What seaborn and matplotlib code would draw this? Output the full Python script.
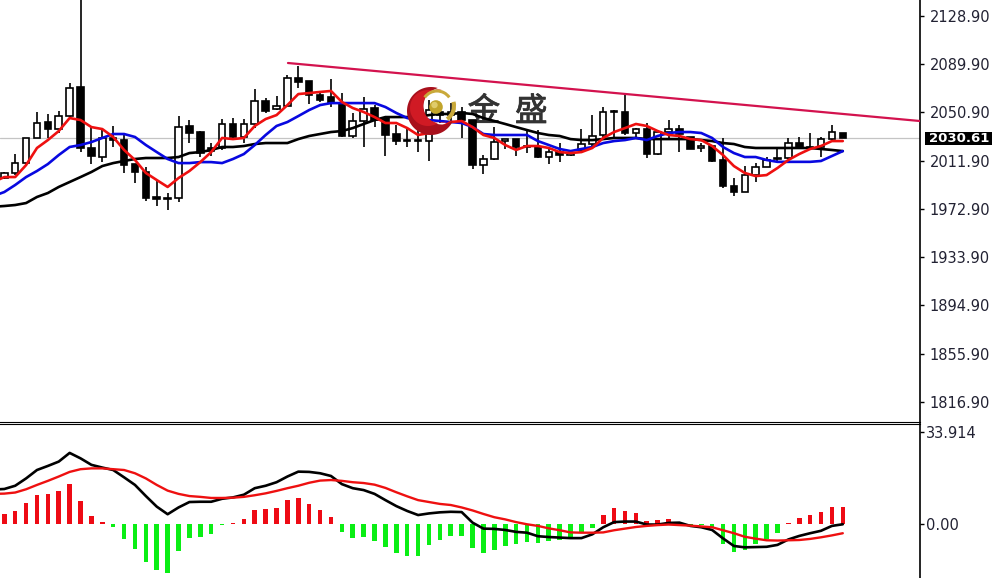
# %%
# import libraries
import matplotlib

matplotlib.use("Agg")
import matplotlib.patheffects as pe
import matplotlib.pyplot as plt
import numpy as np
import pandas as pd
import seaborn as sns
from matplotlib.patches import Arc, Circle, Polygon, Rectangle

# %%
# candles, one entry per bar
opens = [1997.9, 2002.0, 2010.0, 2030.3, 2043.2, 2037.5, 2048.0, 2071.5, 2022.2, 2014.9,
         2030.3, 2028.6, 2009.2, 2002.8, 1982.6, 1981.8, 1981.8, 2040.0, 2035.1, 2022.2,
         2022.2, 2041.6, 2031.1, 2041.6, 2060.2, 2053.7, 2056.1, 2078.8, 2076.3, 2065.0,
         2063.4, 2058.5, 2031.9, 2044.0, 2054.5, 2046.4, 2033.5, 2028.6, 2028.6, 2027.8,
         2051.3, 2048.8, 2051.3, 2044.8, 2008.4, 2013.3, 2027.8, 2029.4, 2023.8, 2023.0,
         2014.9, 2018.9, 2016.5, 2020.6, 2025.4, 2032.7, 2052.1, 2051.3, 2034.3, 2037.5,
         2017.3, 2035.1, 2037.5, 2031.1, 2022.2, 2023.8, 2012.5, 1991.5, 1986.6, 2000.3,
         2006.8, 2014.1, 2014.1, 2026.2, 2023.0, 2023.0, 2029.4, 2034.3]
closes = [2002.0, 2010.0, 2030.3, 2042.4, 2037.5, 2048.0, 2070.7, 2022.2, 2015.7, 2030.3,
          2028.6, 2008.4, 2002.8, 1981.8, 1981.0, 1981.0, 2039.1, 2034.3, 2018.1, 2019.7,
          2041.6, 2031.1, 2041.6, 2060.2, 2052.1, 2056.1, 2078.8, 2075.5, 2065.0, 2061.0,
          2058.5, 2031.9, 2044.0, 2053.7, 2044.8, 2032.7, 2027.8, 2027.8, 2027.8, 2052.9,
          2048.8, 2051.3, 2044.8, 2008.4, 2013.3, 2027.0, 2029.4, 2023.0, 2023.0, 2014.9,
          2018.9, 2016.5, 2018.1, 2025.4, 2031.9, 2051.3, 2051.3, 2034.3, 2037.5, 2017.3,
          2035.1, 2037.5, 2033.5, 2021.4, 2023.8, 2011.7, 1991.5, 1986.6, 2000.3, 2006.8,
          2012.5, 2013.3, 2026.2, 2022.2, 2022.2, 2029.4, 2035.1, 2030.6]
highs = [2002.8, 2017.3, 2030.3, 2051.3, 2049.7, 2052.1, 2074.7, 2146.0, 2039.1, 2037.5,
         2040.0, 2032.7, 2009.2, 2006.8, 1995.5, 1985.8, 2048.0, 2044.8, 2035.9, 2026.2,
         2045.6, 2046.4, 2045.6, 2069.9, 2062.6, 2064.2, 2081.2, 2088.5, 2076.3, 2067.5,
         2078.0, 2066.6, 2050.5, 2063.4, 2056.9, 2046.4, 2040.8, 2039.1, 2040.8, 2061.0,
         2055.3, 2058.5, 2055.3, 2044.8, 2016.5, 2039.1, 2029.4, 2029.4, 2036.7, 2036.7,
         2022.2, 2026.2, 2018.9, 2037.5, 2048.8, 2055.3, 2052.9, 2065.0, 2038.3, 2042.4,
         2036.7, 2044.8, 2040.8, 2031.1, 2026.2, 2023.8, 2030.3, 1997.9, 2007.6, 2010.0,
         2014.9, 2022.2, 2030.3, 2031.1, 2034.3, 2031.1, 2040.8, 2034.3]
lows = [1997.1, 2000.3, 2008.4, 2030.3, 2030.3, 2034.3, 2047.2, 2018.9, 2009.2, 2011.0,
        2023.0, 2002.0, 1993.9, 1979.3, 1975.3, 1972.1, 1978.5, 2026.2, 2014.9, 2015.7,
        2020.6, 2030.3, 2026.2, 2038.3, 2050.5, 2052.9, 2056.1, 2070.7, 2057.7, 2059.4,
        2055.3, 2031.1, 2030.3, 2023.0, 2039.1, 2015.7, 2024.6, 2023.0, 2018.9, 2011.7,
        2042.4, 2042.4, 2030.3, 2005.2, 2001.2, 2012.5, 2021.4, 2015.7, 2018.1, 2014.1,
        2009.2, 2011.0, 2015.7, 2018.9, 2023.0, 2030.3, 2030.3, 2032.7, 2030.3, 2014.1,
        2016.5, 2030.3, 2018.9, 2021.4, 2018.9, 2011.0, 1989.8, 1983.4, 1986.6, 1994.7,
        2006.8, 2011.0, 2013.3, 2022.2, 2021.4, 2014.9, 2028.6, 2030.6]

# moving averages, these start one bar left of the first whole candle
ma_red = [1994.7, 1998.7, 1998.7, 2008.4, 2022.2, 2028.6, 2035.9, 2046.4, 2044.8, 2039.1, 2037.5,
          2031.1, 2020.6, 2012.5, 2002.0, 1996.3, 1990.7, 1997.9, 2003.6, 2010.8, 2018.9,
          2030.3, 2029.4, 2030.3, 2040.0, 2045.6, 2048.8, 2056.9, 2065.8, 2066.6, 2067.5,
          2068.3, 2059.4, 2054.5, 2051.3, 2047.2, 2042.4, 2042.4, 2038.3, 2032.7, 2034.3,
          2038.3, 2043.2, 2044.0, 2039.1, 2032.7, 2030.3, 2024.6, 2020.6, 2023.8, 2023.8,
          2022.2, 2018.9, 2018.1, 2018.9, 2022.2, 2030.3, 2035.1, 2038.3, 2041.6, 2040.0,
          2035.9, 2032.7, 2031.9, 2029.4, 2028.6, 2023.8, 2016.5, 2007.6, 2002.0, 1999.5,
          2000.3, 2006.0, 2012.5, 2017.3, 2021.4, 2023.8, 2027.8, 2027.8]
ma_blue = [1983.4, 1986.6, 1992.3, 1998.7, 2003.6, 2009.2, 2016.5, 2023.0, 2024.6, 2027.0, 2030.3,
           2033.5, 2033.5, 2031.1, 2024.6, 2018.9, 2013.3, 2010.0, 2010.0, 2010.8, 2010.8,
           2010.0, 2013.3, 2017.3, 2024.6, 2032.7, 2040.0, 2043.2, 2048.0, 2052.9, 2056.9,
           2058.5, 2058.5, 2058.5, 2058.5, 2058.5, 2055.3, 2050.5, 2046.4, 2044.8, 2044.8,
           2044.0, 2043.2, 2042.4, 2039.1, 2033.5, 2032.7, 2032.7, 2032.7, 2032.7, 2027.8,
           2024.6, 2021.4, 2019.7, 2021.4, 2023.0, 2026.2, 2027.8, 2028.6, 2030.3, 2028.6,
           2031.9, 2034.3, 2035.1, 2035.1, 2034.3, 2030.3, 2023.0, 2018.1, 2014.9, 2014.9,
           2012.5, 2011.0, 2011.0, 2011.0, 2011.0, 2011.7, 2015.7, 2019.7]
ma_black = [1974.7, 1975.3, 1976.1, 1977.7, 1982.6, 1985.8, 1990.7, 1994.7, 1998.7, 2002.8, 2007.6,
            2010.0, 2011.7, 2013.3, 2014.1, 2014.1, 2014.1, 2014.9, 2018.1, 2018.9, 2020.6,
            2023.0, 2023.0, 2023.8, 2025.4, 2026.2, 2026.2, 2026.2, 2029.4, 2031.9, 2033.5,
            2035.1, 2035.9, 2038.3, 2041.6, 2044.8, 2047.2, 2047.2, 2047.2, 2047.2, 2048.8,
            2049.7, 2049.7, 2050.5, 2049.7, 2046.4, 2044.0, 2041.6, 2039.1, 2036.7, 2034.3,
            2032.7, 2031.9, 2029.4, 2028.6, 2028.6, 2029.4, 2030.3, 2030.3, 2030.3, 2029.4,
            2029.4, 2029.4, 2029.4, 2029.4, 2028.6, 2027.8, 2026.2, 2025.4, 2023.0, 2022.2,
            2022.2, 2022.2, 2022.2, 2022.2, 2022.2, 2021.4, 2020.6, 2019.7]

# hand drawn resistance line
trend_x = [26.05, 84.09]
trend_y = [2090.9, 2044.0]
last_price = 2030.61

# MACD panel
macd_hist = [3.7, 4.9, 7.9, 10.7, 11.1, 12.2, 14.6, 8.5, 2.9, 0.7, -1.2, -5.7, -9.3, -14.0,
             -17.0, -17.9, -10.0, -5.3, -4.7, -3.8, -0.4, 0.3, 1.8, 5.2, 5.5, 5.9, 8.8, 9.6,
             7.4, 5.2, 2.5, -3.1, -5.3, -4.9, -6.3, -8.5, -10.7, -11.7, -11.8, -7.7, -5.9,
             -4.3, -4.5, -8.8, -10.7, -9.6, -8.1, -7.4, -6.6, -7.1, -6.4, -5.9, -5.3, -3.2,
             -1.4, 3.3, 5.8, 4.8, 3.9, 1.1, 1.5, 1.8, 0.9, -0.4, -0.4, -1.2, -7.4, -10.2,
             -9.6, -7.4, -5.7, -3.2, 0.5, 2.2, 3.3, 4.4, 6.3, 6.3]
macd_line = [12.7, 12.9, 14.1, 16.8, 19.9, 21.4, 23.0, 26.2, 24.2, 21.8, 20.8, 19.9, 17.2, 14.4,
             10.3, 6.4, 3.6, 6.1, 8.1, 8.2, 8.2, 9.3, 9.8, 10.8, 13.2, 14.1, 15.4, 17.5,
             19.3, 19.2, 18.7, 17.7, 14.7, 13.2, 12.5, 11.1, 8.8, 6.6, 4.8, 3.3, 3.9, 4.3,
             4.5, 4.4, 0.5, -1.7, -1.8, -2.2, -2.9, -3.2, -4.5, -4.8, -5.0, -5.2, -5.2,
             -3.8, -1.2, 0.7, 0.9, 0.9, -0.2, -0.2, 0.4, 0.5, -0.7, -1.2, -2.2, -5.3, -8.1,
             -8.6, -8.5, -8.4, -7.7, -5.7, -4.4, -3.4, -2.5, -0.7, -0.1]
macd_signal = [11.1, 11.2, 11.6, 12.8, 14.4, 15.9, 17.5, 19.2, 20.2, 20.5, 20.5, 20.2, 19.9, 18.7,
               16.8, 14.4, 12.3, 11.1, 10.3, 10.0, 9.6, 9.6, 9.7, 10.0, 10.6, 11.3, 12.2,
               13.2, 14.1, 15.2, 16.0, 16.2, 15.9, 15.4, 15.1, 14.5, 13.3, 11.7, 10.2, 8.8,
               8.1, 7.4, 7.0, 6.1, 5.0, 3.7, 2.5, 1.7, 0.7, -0.1, -0.7, -1.6, -2.3, -3.1,
               -3.2, -3.2, -3.1, -2.3, -1.7, -1.1, -0.7, -0.4, -0.2, -0.4, -0.6, -0.9, -1.2,
               -2.3, -3.4, -4.7, -5.4, -6.0, -6.1, -6.0, -5.9, -5.5, -4.9, -4.2, -3.4]

price_ticks = [2128.90, 2089.90, 2050.90, 2011.90, 1972.90, 1933.90, 1894.90, 1855.90, 1816.90]
macd_ticks = [33.914, 0.0]
macd_tick_labels = ["33.914", "0.00"]

# %%
# set up figure and the two panels
sns.set_style("white")
plt.rcParams["font.family"] = ["DejaVu Sans"]

W, H = 992, 578
fig = plt.figure(figsize=(W / 100, H / 100), dpi=100)
ax = fig.add_axes([0, (H - 421.5) / H, 920 / W, 421.5 / H])
ax_macd = fig.add_axes([0, 0, 920 / W, (H - 423.5) / H])

df = pd.DataFrame({"bar": np.arange(len(opens)), "open": opens, "close": closes,
                   "high": highs, "low": lows})
df["top"] = df[["open", "close"]].max(axis=1)
df["bottom"] = df[["open", "close"]].min(axis=1)
df["up"] = df["close"] >= df["open"]
df_ma = pd.DataFrame({"bar": np.arange(-1, len(opens)), "red": ma_red, "blue": ma_blue, "black": ma_black,
                      "line": macd_line, "signal": macd_signal})

# %%
# candles and averages
ax.text(42.55, 2051.3, "金  盛", family="Noto Sans CJK SC", fontsize=23.5, color="#333333",
        va="center", ha="left", zorder=1,
        path_effects=[pe.withStroke(linewidth=0.6, foreground="#333333")])
ax.axhline(last_price, color="#c4c4c4", lw=0.9, zorder=1)
ax.vlines(df["bar"], df["low"], df["high"], color="black", lw=1.2, zorder=2)
ax.bar(df["bar"], df["top"] - df["bottom"], bottom=df["bottom"], width=0.6,
       color=["white" if u else "black" for u in df["up"]], edgecolor="black", lw=1.2, zorder=3)

sns.lineplot(data=df_ma, x="bar", y="black", color="black", lw=1.9, errorbar=None, ax=ax, zorder=4)
sns.lineplot(data=df_ma, x="bar", y="blue", color="#0808e0", lw=1.9, errorbar=None, ax=ax, zorder=5)
sns.lineplot(data=df_ma, x="bar", y="red", color="#ee1010", lw=1.9, errorbar=None, ax=ax, zorder=6)
sns.lineplot(x=trend_x, y=trend_y, color="#d3124e", lw=1.6, errorbar=None, ax=ax, zorder=6)

ax.set_xlim(-0.395, 84.09)
ax.set_ylim(1801.1, 2141.83)
ax.set_yticks(price_ticks)
ax.set_yticklabels([f"{t:.2f}" for t in price_ticks])

# %%
# MACD panel
df_macd = pd.DataFrame({"bar": df["bar"], "hist": macd_hist})
df_macd["sign"] = np.where(df_macd["hist"] >= 0, "pos", "neg")
sns.barplot(data=df_macd, x="bar", y="hist", hue="sign", palette={"pos": "#ee0a14", "neg": "#0aee14"},
            native_scale=True, dodge=False, width=0.42, saturation=1, linewidth=0, legend=False,
            ax=ax_macd, zorder=2)
sns.lineplot(data=df_ma, x="bar", y="line", color="black", lw=1.9, errorbar=None, ax=ax_macd, zorder=4)
sns.lineplot(data=df_ma, x="bar", y="signal", color="#ee1010", lw=1.7, errorbar=None, ax=ax_macd, zorder=5)

ax_macd.set_xlim(-0.395, 84.09)
ax_macd.set_ylim(-19.9, 37.04)
ax_macd.set_yticks(macd_ticks)
ax_macd.set_yticklabels(macd_tick_labels)

for a in (ax, ax_macd):
    a.set_xlabel("")
    a.set_ylabel("")
    a.set_xticks([])
    a.yaxis.tick_right()
    a.tick_params(axis="y", length=3, width=1, pad=4, labelsize=10.5, labelcolor="#222233", color="black")
    for side in ("left", "top", "bottom"):
        a.spines[side].set_visible(False)
    a.spines["right"].set_visible(True)
    a.spines["right"].set_color("black")
    a.spines["right"].set_linewidth(1.2)
ax.spines["bottom"].set_visible(True)
ax.spines["bottom"].set_color("black")
ax_macd.spines["top"].set_visible(True)
ax_macd.spines["top"].set_color("black")
ax_macd.tick_params(axis="y", pad=1)

# %%
# logo and last price box sit on top of the chart, drawn in picture pixels
logo = fig.add_axes([0, 0, 1, 1])
logo.set_xlim(0, W)
logo.set_ylim(H, 0)
logo.axis("off")
logo.patch.set_alpha(0)


def crescent(cx, cy, R, ix, iy, r):
    d = np.hypot(ix - cx, iy - cy)
    phi = np.arctan2(iy - cy, ix - cx)
    alpha = np.arccos((d**2 + R**2 - r**2) / (2 * d * R))
    beta = np.arccos((d**2 + r**2 - R**2) / (2 * d * r))
    t1 = np.linspace(phi + alpha, phi + 2 * np.pi - alpha, 80)
    t2 = np.linspace(phi - beta, phi + beta - 2 * np.pi, 80)
    return np.vstack([
        np.c_[cx + R * np.cos(t1), cy + R * np.sin(t1)],
        np.c_[ix + r * np.cos(t2), iy + r * np.sin(t2)],
    ])


logo.add_patch(Polygon(crescent(431, 111, 24, 442, 106, 18.5), color="#a8101c", lw=0))
logo.add_patch(Polygon(crescent(428, 108, 18, 440, 106, 17), color="#d01a24", lw=0))
logo.add_patch(Arc((437, 106), 30, 30, angle=0, theta1=215, theta2=325, color="#c9a93a", lw=2.2))
logo.add_patch(Arc((438, 106), 32, 32, angle=0, theta1=-15, theta2=55, color="#c9a93a", lw=3.0))
logo.add_patch(Circle((436, 107), 6.8, color="#c2a52c", lw=0))
logo.add_patch(Circle((434.5, 105), 3.2, color="#e0cc6a", lw=0))

logo.add_patch(Rectangle((925, 131.5), 67, 13.5, color="black", lw=0))
logo.text(929, 138.2, f"{last_price:.2f}", color="white", fontsize=9.5, fontweight="bold",
          va="center", ha="left")

fig.savefig("out.png", dpi=100)
